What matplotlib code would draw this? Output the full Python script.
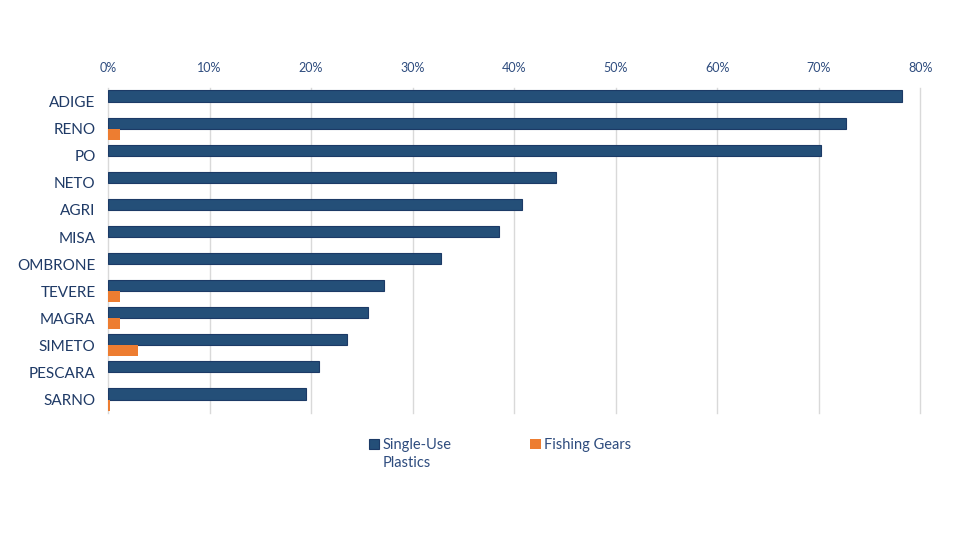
import matplotlib.pyplot as plt
import numpy as np
from matplotlib.ticker import PercentFormatter

plt.rcParams['font.family'] = ['Lato', 'DejaVu Sans']

rivers = ["ADIGE", "RENO", "PO", "NETO", "AGRI", "MISA", "OMBRONE",
          "TEVERE", "MAGRA", "SIMETO", "PESCARA", "SARNO"]
single_use = [78.2, 72.7, 70.2, 44.1, 40.8, 38.5, 32.8, 27.2, 25.6, 23.5, 20.8, 19.5]
fishing = [0.0, 1.2, 0.0, 0.0, 0.0, 0.0, 0.0, 1.2, 1.2, 3.0, 0.0, 0.2]

blue = "#244F78"
orange = "#ED7D31"
txt = "#2E4C7E"

fig = plt.figure(figsize=(9.6, 5.4), dpi=100)
ax = fig.add_axes([0.1125, 0.235, 0.846, 0.602])

y = np.arange(len(rivers))
h = 0.41
ax.barh(y - h / 2, single_use, height=h, color=blue, edgecolor="#1C3A66",
        linewidth=0.8, label="Single-Use", zorder=3)
ax.barh(y + h / 2, fishing, height=h, color=orange, linewidth=0,
        label="Fishing Gears", zorder=3)

ax.set_xlim(0, 80)
ax.set_ylim(len(rivers) - 0.5, -0.5)
ax.set_xticks(np.arange(0, 81, 10))
ax.xaxis.set_major_formatter(PercentFormatter(decimals=0))
ax.xaxis.tick_top()
ax.set_yticks(y)
ax.set_yticklabels(rivers)
ax.tick_params(axis="x", length=0, labelsize=9, labelcolor=txt, pad=10)
ax.tick_params(axis="y", length=0, labelsize=11, labelcolor="#1F3A66", pad=9)
ax.grid(axis="x", color="#D9D9D9", linewidth=1, zorder=0, clip_on=False)
for s in ax.spines.values():
    s.set_visible(False)

leg = fig.legend(loc="upper left", bbox_to_anchor=(0.378, 0.2), ncol=2,
                 frameon=False, fontsize=10.5, handlelength=0.7, handleheight=0.7,
                 handletextpad=0.25, columnspacing=5.4, borderaxespad=0)
for t in leg.get_texts():
    t.set_color(txt)

# second line of the first legend label
fig.canvas.draw()
bb = leg.get_texts()[0].get_window_extent().transformed(fig.transFigure.inverted())
fig.text(bb.x0, bb.y0 - 0.008, "Plastics", color=txt, fontsize=10.5, va="top", ha="left")

fig.savefig("out.png", dpi=100)
